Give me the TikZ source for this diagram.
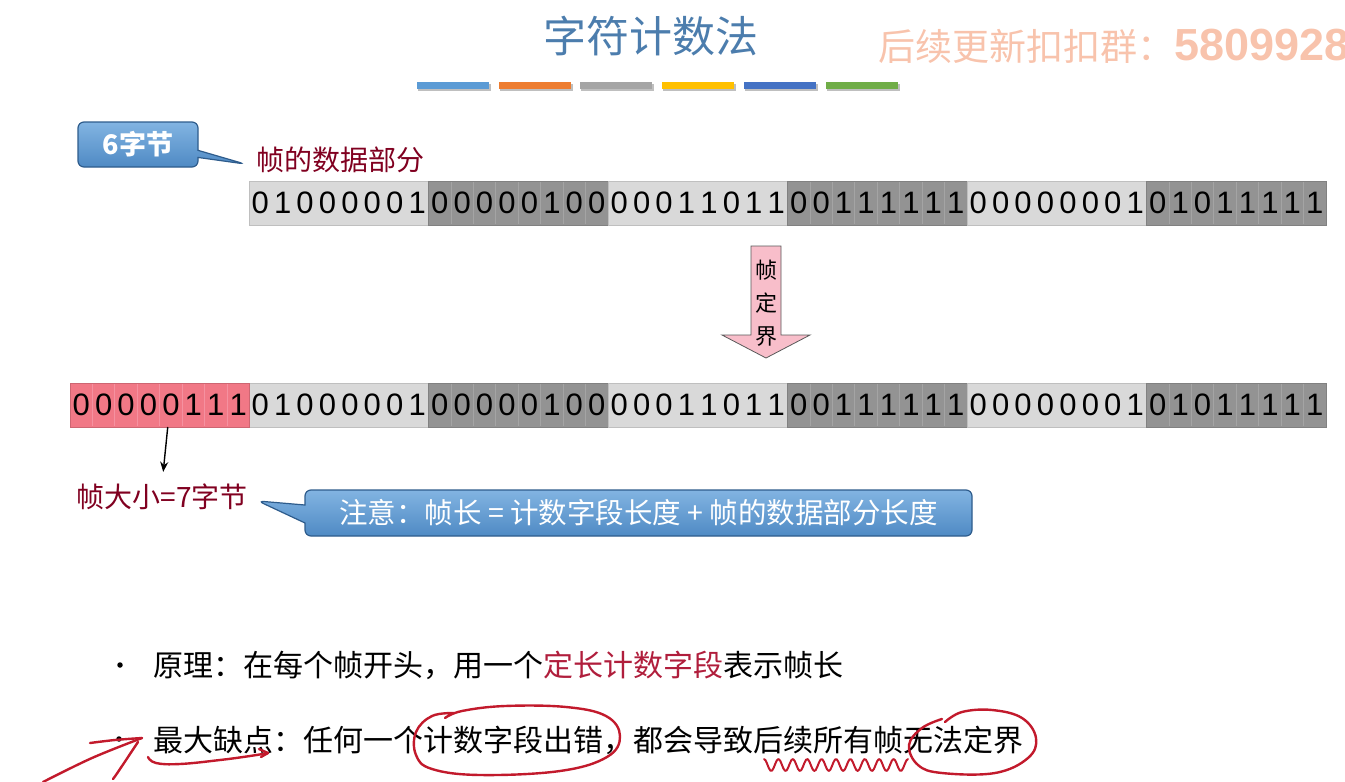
\documentclass[tikz,border=0pt]{standalone}
\usepackage{fontspec}
\setmainfont{Liberation Sans}
\newfontfamily\cjk{Noto Sans CJK SC}
\usepackage{tikz}
\usetikzlibrary{positioning,shapes.callouts,arrows.meta}

\definecolor{bytelight}{HTML}{D9D9D9}
\definecolor{bytedark}{HTML}{939393}
\definecolor{sepdark}{HTML}{A4A4A4}
\definecolor{bytered}{HTML}{F17886}
\definecolor{sepred}{HTML}{F591A0}
\definecolor{framered}{HTML}{800020}
\definecolor{pointred}{HTML}{B01E3C}
\definecolor{callouttop}{HTML}{82B4E2}
\definecolor{calloutbot}{HTML}{4F8AC4}
\definecolor{calloutedge}{HTML}{2E5C8C}
\definecolor{titleblue}{HTML}{4C7DAD}
\definecolor{wmark}{HTML}{F8C3AC}
\definecolor{penred}{HTML}{C21A2C}
\definecolor{arrowpink}{HTML}{F8BECA}
\definecolor{barA}{HTML}{5B9BD5}
\definecolor{barB}{HTML}{ED7D31}
\definecolor{barC}{HTML}{A5A5A5}
\definecolor{barD}{HTML}{FFC000}
\definecolor{barE}{HTML}{4472C4}
\definecolor{barF}{HTML}{70AD47}

% one byte = eight fixed-width digit boxes
\newlength\bitw \setlength\bitw{22.44pt}
\def\bitloop#1{\ifx#1\relax\else\makebox[\bitw]{#1}\expandafter\bitloop\fi}
\newcommand\bitstr[1]{\expandafter\bitloop#1\relax}

\tikzset{
  bytebox/.style={minimum width=179.5pt,minimum height=44pt,inner sep=0pt,outer sep=0pt,
    line width=0.6pt,font=\fontsize{31}{31}\selectfont,text=black},
  bluecallout/.style={rectangle callout,rounded corners=6pt,top color=callouttop,
    bottom color=calloutbot,draw=calloutedge,line width=1.2pt,text=white,inner sep=0pt},
  redlabel/.style={font=\cjk\fontsize{28}{30}\selectfont,text=framered,inner sep=0pt},
  body/.style={font=\cjk\fontsize{30}{32}\selectfont,inner sep=0pt,anchor=west},
  bulletdot/.style={circle,fill=black,inner sep=0pt,minimum size=5.5pt},
  pen/.style={penred,line width=2.4pt,line cap=round,line join=round}
}

\begin{document}
\begin{tikzpicture}[x=1pt,y=-1pt]
\useasboundingbox (0,0) rectangle (1345,782);

% title and colour bars
\node[font=\cjk\fontsize{43}{45}\selectfont,text=titleblue] (title) at (651,36) {字符计数法};
\foreach \col [count=\i] in {barA,barB,barC,barD,barE,barF}{
  \fill[black!25] ({417+81.7*(\i-1)+1},84) rectangle +(73,7);
  \fill[fill=\col] ({417+81.7*(\i-1)},82) rectangle +(72,6.5);
}
\node[anchor=west,inner sep=0pt,text=wmark] (wmark) at (878,46)
  {\cjk\fontsize{37}{40}\selectfont 后续更新扣扣群：\fontsize{45}{45}\selectfont\rmfamily\bfseries 5809928};

% data part of the frame
\node[bluecallout,callout absolute pointer={(245,164)},minimum width=120pt,minimum height=45pt,
  font=\cjk\fontsize{27}{28}\selectfont\bfseries] (bytes6) at (138,144.5) {6字节};
\node[redlabel] (datalbl) at (340,160) {帧的数据部分};

\foreach \bits/\fillc/\sepc [count=\k] in {01000001/bytelight/bytelight,00000100/bytedark/sepdark,
  00011011/bytelight/bytelight,00111111/bytedark/sepdark,00000001/bytelight/bytelight,01011111/bytedark/sepdark}{
  \node[bytebox,fill=\fillc,draw=\fillc!88!black] (top\k) at ({249+179.5*(\k-0.5)},203) {\bitstr{\bits}};
  \foreach \j in {1,...,7}
    \draw[color=\sepc,line width=0.8pt] ([xshift=\j*\bitw,yshift=-1pt]top\k.north west) -- ([xshift=\j*\bitw,yshift=1pt]top\k.south west);
  \node[bytebox,fill=\fillc,draw=\fillc!88!black] (bot\k) at ({249+179.5*(\k-0.5)},405) {\bitstr{\bits}};
  \foreach \j in {1,...,7}
    \draw[color=\sepc,line width=0.8pt] ([xshift=\j*\bitw,yshift=-1pt]bot\k.north west) -- ([xshift=\j*\bitw,yshift=1pt]bot\k.south west);
}

% framing arrow
\draw[fill=arrowpink,draw=black!65,line width=0.8pt,line join=miter]
  (751,246) -- (781,246) -- (781,335) -- (810,335) -- (766,358) -- (722,335) -- (751,335) -- cycle;
\node[font=\cjk\fontsize{22}{33}\selectfont,align=center,inner sep=0pt] (framing) at (766,303) {帧\\定\\界};

% count field
\node[bytebox,fill=bytered,draw=bytered!85!black] (bot0) at (159.75,405) {\bitstr{00000111}};
\foreach \j in {1,...,7}
  \draw[sepred,line width=0.8pt] ([xshift=\j*\bitw,yshift=-1pt]bot0.north west) -- ([xshift=\j*\bitw,yshift=1pt]bot0.south west);
\node[redlabel] (sizelbl) at (162,497) {帧大小=7字节};
\draw[-{Stealth[length=10pt,width=8pt]},line width=1.4pt,shorten >=12pt] ([xshift=8pt]bot0.south) -- (sizelbl.north);
\node[bluecallout,callout absolute pointer={(258,501)},callout pointer width=18pt,minimum width=667pt,minimum height=46pt,
  font=\cjk\fontsize{28.5}{30}\selectfont] (notice) at (638.5,513) {注意：帧长 = 计数字段长度 + 帧的数据部分长度};

% bullets
\node[bulletdot] (dot1) at (120,665) {};
\node[body] (principle) at (153,665) {原理：在每个帧开头，用一个\textcolor{pointred}{定长计数字段}表示帧长};
\node[bulletdot] (dot2) at (119,739) {};
\node[body] (drawback) at (153,740) {最大缺点：任何一个计数字段出错，都会导致后续所有帧无法定界};

% hand-drawn marks
\draw[pen] plot[smooth,tension=.6] coordinates {(43,782) (92,758) (142,738)};
\draw[pen] plot[smooth,tension=.6] coordinates {(90,743) (115,740) (142,738)};
\draw[pen] plot[smooth,tension=.5] coordinates {(113,779) (118,772) (138,742)};
\draw[pen] plot[smooth,tension=.7] coordinates {(148,757) (156,763) (180,764) (220,760) (250,756) (268,753)};
\draw[pen] (259,749) -- (268,753) -- (261,757);
\draw[pen] plot[smooth,tension=.65] coordinates {(455,713) (432,716) (416,732) (416,755) (432,769) (480,775) (560,771) (607,757) (620,736) (606,716) (566,707) (505,706) (462,711) (445,718)};
\draw[pen,line width=2pt] plot[domain=764:908,samples=90] (\x,{765+6*sin(25*(\x-764)-90)});
\draw[pen] plot[smooth,tension=.65] coordinates {(942,719) (922,728) (909,745) (918,765) (942,773) (995,773) (1028,758) (1036,738) (1022,718) (992,710) (962,712) (945,722)};
\end{tikzpicture}
\end{document}
